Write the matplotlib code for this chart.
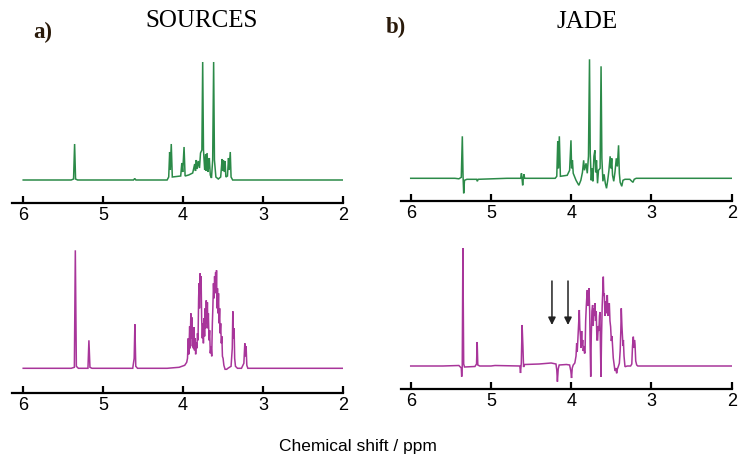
"""
plot.py
-------
1H NMR spectra: reference sources (a) vs. JADE-estimated sources (b).
"""

import numpy as np
import matplotlib
matplotlib.use("Agg")
import matplotlib.pyplot as plt


# ── 1. Data (ppm, intensity) ─────────────────────────────────────────────────

TICKS = [6, 5, 4, 3, 2]
TITLES = ["SOURCES", "JADE"]
PANEL_LABELS = ["a)", "b)"]
ARROW_PPM = [4.24, 4.04]

SOURCES_1 = [
    (6.00, 0), (5.40, 0), (5.37, 1), (5.357, 36), (5.345, 1), (5.32, 0),
    (4.62, 0), (4.605, 1.5), (4.59, 0), (4.20, 0), (4.18, 3), (4.168, 28),
    (4.16, 10), (4.148, 36), (4.135, 3), (4.03, 4), (4.016, 17), (4.005, 8),
    (3.988, 33), (3.975, 4), (3.93, 5), (3.88, 7), (3.855, 16), (3.845, 9),
    (3.835, 20), (3.825, 11), (3.81, 19), (3.795, 12), (3.782, 27),
    (3.765, 30), (3.755, 118), (3.745, 30), (3.73, 10), (3.718, 26),
    (3.71, 9), (3.70, 27), (3.69, 8), (3.68, 14), (3.672, 22), (3.66, 5),
    (3.645, 2), (3.63, 20), (3.618, 118), (3.608, 20), (3.59, 3), (3.56, 1),
    (3.53, 3), (3.512, 21), (3.505, 9), (3.495, 20), (3.485, 8), (3.475, 19),
    (3.465, 3), (3.445, 4), (3.432, 22), (3.425, 10), (3.41, 28), (3.40, 3),
    (3.38, 0), (2.00, 0),
]

JADE_1 = [
    (6.00, 0), (5.45, 0), (5.40, -0.5), (5.37, 1), (5.357, 42), (5.348, 2),
    (5.34, -15), (5.33, -2), (5.30, -1), (5.18, -1), (5.17, -3), (5.16, -1),
    (4.80, 0), (4.63, 0), (4.62, 5), (4.612, -1), (4.605, -7), (4.597, 0),
    (4.59, 4), (4.58, 0), (4.20, 0), (4.18, 2), (4.168, 37), (4.16, 10),
    (4.148, 42), (4.135, 2), (4.05, 3), (4.02, 8), (4.003, 38), (3.995, 10),
    (3.985, 18), (3.975, 5), (3.94, -2), (3.905, -7), (3.88, -2), (3.86, 6),
    (3.845, 18), (3.835, 8), (3.815, 15), (3.80, 5), (3.785, 22),
    (3.772, 119), (3.763, 25), (3.75, -2), (3.74, 10), (3.73, -3),
    (3.717, 22), (3.705, 28), (3.695, 6), (3.685, 18), (3.672, -5),
    (3.66, 8), (3.64, 10), (3.628, 112), (3.618, 20), (3.605, -3), (3.59, 4),
    (3.575, -5), (3.56, -10), (3.545, -2), (3.53, 8), (3.515, 22),
    (3.505, 10), (3.495, 20), (3.485, 3), (3.47, -3), (3.455, 6),
    (3.438, 20), (3.425, 12), (3.41, 33), (3.40, 5), (3.39, -4), (3.37, -8),
    (3.355, -2), (3.33, -1), (3.27, -1), (3.245, -3), (3.23, -4),
    (3.215, -1), (3.19, 0), (2.00, 0),
]

SOURCES_2 = [
    (6.00, 0), (5.40, 0), (5.36, 1), (5.348, 118), (5.335, 2), (5.31, 0),
    (5.19, 0), (5.178, 28), (5.165, 1), (5.14, 0), (4.63, 0), (4.612, 10),
    (4.603, 44), (4.592, 2), (4.57, 0), (4.20, 0), (4.05, 1), (3.98, 3),
    (3.955, 6), (3.945, 10), (3.935, 30), (3.928, 14), (3.918, 42),
    (3.912, 20), (3.903, 55), (3.897, 30), (3.891, 51), (3.884, 22),
    (3.878, 38), (3.872, 20), (3.864, 41), (3.858, 18), (3.850, 30),
    (3.843, 14), (3.835, 26), (3.828, 20), (3.820, 35), (3.813, 28),
    (3.806, 70), (3.800, 85), (3.795, 60), (3.787, 95), (3.781, 75),
    (3.775, 92), (3.768, 50), (3.760, 30), (3.752, 45), (3.746, 25),
    (3.738, 50), (3.731, 32), (3.724, 60), (3.717, 40), (3.710, 68),
    (3.703, 45), (3.696, 66), (3.690, 40), (3.684, 55), (3.676, 28),
    (3.668, 38), (3.660, 15), (3.650, 22), (3.642, 12), (3.634, 45),
    (3.628, 60), (3.620, 85), (3.613, 70), (3.606, 92), (3.600, 80),
    (3.593, 96), (3.587, 75), (3.582, 98), (3.576, 60), (3.570, 80),
    (3.564, 55), (3.557, 75), (3.550, 45), (3.543, 60), (3.537, 35),
    (3.530, 45), (3.522, 25), (3.515, 32), (3.508, 12), (3.500, 10),
    (3.490, 3), (3.475, -1), (3.455, -1), (3.44, 0), (3.40, 2),
    (3.385, 20), (3.378, 57), (3.370, 30), (3.362, 40), (3.355, 10),
    (3.345, 2), (3.32, 0), (3.27, 0), (3.24, 5), (3.228, 25), (3.22, 12),
    (3.212, 22), (3.203, 3), (3.19, 0), (2.00, 0),
]

JADE_2 = [
    (6.00, 0), (5.60, 0), (5.40, 0.5), (5.37, -2), (5.365, -10.7),
    (5.358, 0), (5.35, 118), (5.34, 2), (5.33, -1), (5.20, -0.5), (5.18, 2),
    (5.172, 24), (5.164, 1), (5.14, 0), (5.00, 0), (4.95, 0.5), (4.64, 0),
    (4.632, -7), (4.622, 3), (4.612, 41), (4.602, 20), (4.594, -1),
    (4.58, 1.5), (4.40, 2), (4.25, 3), (4.19, 2), (4.18, -4),
    (4.172, -15.7), (4.162, -3), (4.15, 1), (4.06, 1.5), (4.02, 1),
    (4.005, -5), (3.996, -12), (3.987, -2), (3.975, 1), (3.955, 3),
    (3.94, 10), (3.932, 22.7), (3.925, 14), (3.915, 30), (3.906, 45),
    (3.899, 56), (3.893, 38), (3.885, 30), (3.878, 18), (3.870, 35),
    (3.864, 20), (3.857, 26), (3.850, 15), (3.842, 20), (3.835, 13),
    (3.828, 12.7), (3.820, 45), (3.812, 60), (3.805, 70), (3.799, 76),
    (3.792, 60), (3.785, 72), (3.778, 77.7), (3.770, 55), (3.764, 20),
    (3.757, -10.7), (3.750, 30), (3.742, 55), (3.733, 61), (3.726, 40),
    (3.718, 58), (3.711, 50), (3.704, 62.7), (3.696, 45), (3.688, 55),
    (3.680, 26), (3.671, 26), (3.663, 40), (3.655, 35), (3.648, 50),
    (3.642, 54), (3.636, 20), (3.629, -10.7), (3.622, 30), (3.614, 60),
    (3.607, 75), (3.600, 89.3), (3.594, 70), (3.588, 72.7), (3.580, 50),
    (3.574, 65), (3.567, 52.7), (3.560, 60), (3.555, 68), (3.550, 71),
    (3.542, 50), (3.535, 58), (3.525, 62.7), (3.517, 45), (3.509, 39.3),
    (3.500, 25), (3.492, 30), (3.484, 19.3), (3.476, 8), (3.467, 2.7),
    (3.458, -3), (3.450, -5), (3.442, -2), (3.434, -7.3), (3.425, -3),
    (3.415, -1), (3.400, 2.7), (3.390, 15), (3.382, 35), (3.376, 57.7),
    (3.368, 40), (3.362, 30), (3.355, 20), (3.350, 26), (3.342, 10),
    (3.330, -0.7), (3.30, 0), (3.26, 0), (3.245, 2), (3.236, 20),
    (3.226, 29.3), (3.218, 18), (3.212, 26), (3.205, 22), (3.196, 5),
    (3.184, 1), (3.17, 0), (2.00, 0),
]

GREEN = "#2b8a48"
MAGENTA = "#a8359a"


# ── 2. Layout helpers (pixel boxes on a 740x455 canvas) ──────────────────────

W, H = 740, 455
fig = plt.figure(figsize=(W / 100, H / 100), dpi=100)


def add_px_axes(left, right, top, bottom):
    return fig.add_axes([left / W, 1 - bottom / H, (right - left) / W,
                         (bottom - top) / H])


def draw_spectrum(ax, data, color, xlim, ylim):
    ppm, inten = np.array(data).T
    ax.plot(ppm, inten, color=color, lw=1.1, solid_joinstyle="miter")
    ax.set_xlim(*xlim)
    ax.set_ylim(*ylim)
    for side in ("top", "left", "right"):
        ax.spines[side].set_visible(False)
    ax.spines["bottom"].set_linewidth(1.6)
    ax.set_yticks([])
    ax.set_xticks(TICKS)
    ax.set_xticklabels([str(t) for t in TICKS])
    ax.tick_params(axis="x", direction="in", length=5, width=1.6, pad=3,
                   labelsize=13)
    for lab in ax.get_xticklabels():
        lab.set_family("Liberation Sans")
    ax.patch.set_visible(False)


# ── 3. Panels ────────────────────────────────────────────────────────────────

ax_a1 = add_px_axes(12, 343, 50, 203)
draw_spectrum(ax_a1, SOURCES_1, GREEN, (6.14, 2.0), (-23, 130))

ax_b1 = add_px_axes(400.7, 731.7, 50, 201)
draw_spectrum(ax_b1, JADE_1, GREEN, (6.125, 2.0), (-22.7, 128.3))

ax_a2 = add_px_axes(12, 343, 240, 392.7)
draw_spectrum(ax_a2, SOURCES_2, MAGENTA, (6.14, 2.0), (-24.4, 128.3))

ax_b2 = add_px_axes(400.7, 731.7, 240, 389.3)
draw_spectrum(ax_b2, JADE_2, MAGENTA, (6.125, 2.0), (-23.3, 126))

for x in ARROW_PPM:
    ax_b2.annotate("", xy=(x, 41), xytext=(x, 85),
                   arrowprops=dict(arrowstyle="-|>", color="#222222", lw=1.1,
                                   mutation_scale=11, shrinkA=0, shrinkB=0))


# ── 4. Titles and labels ─────────────────────────────────────────────────────

fig.text(201.5 / W, 1 - 21 / H, TITLES[0], ha="center", va="center",
         family="Liberation Serif", fontsize=18)
fig.text(587 / W, 1 - 22 / H, TITLES[1], ha="center", va="center",
         family="Liberation Serif", fontsize=18)
fig.text(33 / W, 1 - 32 / H, PANEL_LABELS[0], ha="left", va="center",
         family="Liberation Serif", fontsize=16.5, fontweight="bold",
         color="#2a1a0a")
fig.text(386 / W, 1 - 27 / H, PANEL_LABELS[1], ha="left", va="center",
         family="Liberation Serif", fontsize=16.5, fontweight="bold",
         color="#2a1a0a")
fig.text(357.5 / W, 1 - 447 / H, "Chemical shift / ppm", ha="center",
         va="center", family="Liberation Sans", fontsize=12.5)

fig.savefig("out.png", dpi=100)
